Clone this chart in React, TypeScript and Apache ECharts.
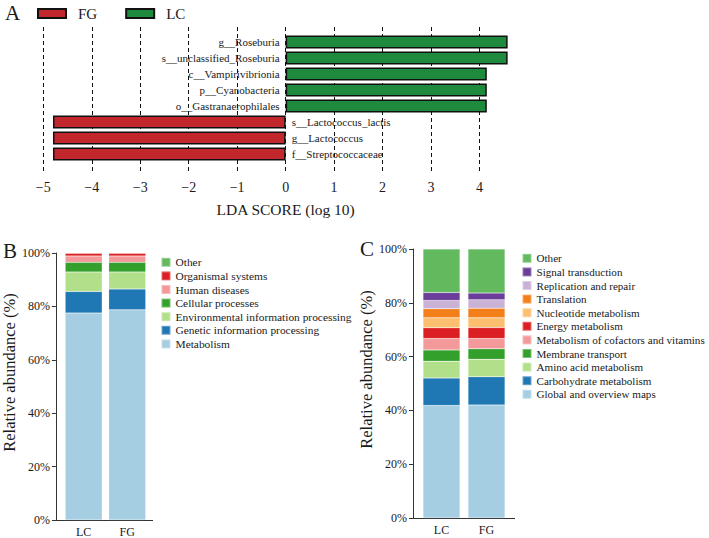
import React, { useEffect, useRef } from 'react';
import * as echarts from 'echarts';

// ---------- Panel A: LEfSe LDA scores ----------
const taxa = [
  'g__Roseburia',
  's__unclassified_Roseburia',
  'c__Vampirivibrionia',
  'p__Cyanobacteria',
  'o__Gastranaerophilales',
  's__Lactococcus_lactis',
  'g__Lactococcus',
  'f__Streptococcaceae',
];
const ldaLC = [4.58, 4.58, 4.15, 4.15, 4.15, null, null, null];
const ldaFG = [null, null, null, null, null, -4.8, -4.8, -4.8];

// ---------- Panels B and C: stacked relative abundance ----------
const groups = ['LC', 'FG'];

const level1Names = [
  'Metabolism',
  'Genetic information processing',
  'Environmental information processing',
  'Cellular processes',
  'Human diseases',
  'Organismal systems',
  'Other',
];
const level1LC = [77.5, 8.1, 7.3, 3.6, 2.4, 1.0, 0.1];
const level1FG = [78.7, 7.8, 6.4, 3.6, 2.4, 1.0, 0.1];
const level1Colors = ['#a6cee3', '#1f78b4', '#b2df8a', '#33a02c', '#f4999a', '#dc1f23', '#63b95e'];

const level2Names = [
  'Global and overview maps',
  'Carbohydrate metabolism',
  'Amino acid metabolism',
  'Membrane transport',
  'Metabolism of cofactors and vitamins',
  'Energy metabolism',
  'Nucleotide metabolism',
  'Translation',
  'Replication and repair',
  'Signal transduction',
  'Other',
];
const level2LC = [41.8, 10.2, 6.3, 4.2, 4.2, 4.0, 3.7, 3.4, 3.1, 2.9, 16.2];
const level2FG = [42.0, 10.5, 6.5, 3.9, 3.8, 4.1, 3.6, 3.6, 3.1, 2.5, 16.4];
const level2Colors = [
  '#a6cee3', '#1f78b4', '#b2df8a', '#33a02c', '#f4999a', '#dc1f23',
  '#fbbf6f', '#f37f1b', '#cab2d6', '#6a3d9a', '#63b95e',
];

const FONT = '"Liberation Serif", "Times New Roman", serif';
const TXT = '#1a1a1a';

export default function App() {
  const ref = useRef<HTMLDivElement>(null);

  useEffect(() => {
    if (!ref.current) return;
    const chart = echarts.init(ref.current, undefined, { renderer: 'svg' });

    const stackedAxisY = (gridIndex: number) => ({
      type: 'value',
      gridIndex,
      min: 0,
      max: 100,
      interval: 20,
      offset: 6,
      axisLine: { show: true, lineStyle: { color: '#333', width: 1 } },
      axisTick: { show: true, length: 4, lineStyle: { color: '#333' } },
      splitLine: { show: false },
      axisLabel: { formatter: '{value}%', fontSize: 12, color: TXT, margin: 6, fontFamily: FONT },
      name: 'Relative abundance (%)',
      nameLocation: 'middle',
      nameGap: 36,
      nameTextStyle: { fontSize: 16.5, color: TXT, fontFamily: FONT, padding: [0, 0, 0, 28] },
    });

    const stackedAxisX = (gridIndex: number) => ({
      type: 'category',
      gridIndex,
      data: groups,
      axisLine: { show: false },
      axisTick: { show: false },
      axisLabel: { fontSize: 12, color: TXT, margin: 6, fontFamily: FONT },
    });

    const stackSeries = (names: string[], lc: number[], fg: number[], colors: string[], idx: number, stack: string) =>
      names.map((n, i) => ({
        name: n,
        type: 'bar',
        stack,
        xAxisIndex: idx,
        yAxisIndex: idx,
        barWidth: 37,
        itemStyle: { color: colors[i], borderColor: 'rgba(255,255,255,0.35)', borderWidth: 0.5 },
        data: [lc[i], fg[i]],
      }));

    const legendVertical = (left: number, top: number, data: string[], fontSize: number) => ({
      orient: 'vertical',
      left,
      top,
      padding: 0,
      data,
      icon: 'rect',
      itemWidth: 9,
      itemHeight: 9,
      itemGap: 1,
      selectedMode: false,
      textStyle: { fontSize, color: TXT, fontFamily: FONT, lineHeight: 12.6 },
    });

    const option: any = {
      animation: false,
      backgroundColor: '#ffffff',
      textStyle: { fontFamily: FONT },
      grid: [
        { left: 43.3, top: 27, width: 484.7, height: 146 },
        { left: 43.3, top: 34, width: 484.7, height: 128 },
        { left: 59, top: 253, width: 90, height: 267 },
        { left: 419, top: 249, width: 90, height: 269 },
      ],
      xAxis: [
        {
          type: 'value',
          gridIndex: 0,
          min: -5,
          max: 5,
          interval: 1,
          axisLine: { show: false },
          axisTick: { show: false },
          splitLine: {
            show: true,
            showMinLine: true,
            showMaxLine: false,
            lineStyle: { color: '#111', type: [4, 3], width: 1 },
          },
          axisLabel: {
            fontSize: 14,
            color: TXT,
            margin: 7,
            fontFamily: FONT,
            formatter: (v: number) => (v >= 5 ? '' : String(v).replace('-', '\u2212')),
          },
          name: 'LDA SCORE (log 10)',
          nameLocation: 'middle',
          nameGap: 28,
          nameTextStyle: { fontSize: 15.5, color: TXT, fontFamily: FONT },
        },
        { type: 'value', gridIndex: 1, min: -5, max: 5, show: false },
        stackedAxisX(2),
        stackedAxisX(3),
      ],
      yAxis: [
        { type: 'value', gridIndex: 0, show: false },
        {
          type: 'category',
          gridIndex: 1,
          data: taxa,
          inverse: true,
          show: false,
        },
        stackedAxisY(2),
        stackedAxisY(3),
      ],
      legend: [
        {
          left: 37,
          top: 6,
          padding: 0,
          data: ['FG', 'LC'],
          icon: 'rect',
          itemWidth: 28,
          itemHeight: 9,
          itemGap: 28,
          selectedMode: false,
          formatter: (name: string) => '{s|}' + name,
          textStyle: {
            fontSize: 15,
            color: TXT,
            fontFamily: FONT,
            rich: { s: { width: 7 } },
          },
        },
        legendVertical(160.5, 256, [...level1Names].reverse(), 11.4),
        legendVertical(521.5, 252, [...level2Names].reverse(), 11.1),
      ],
      graphic: [
        { type: 'text', left: 5, top: 2, style: { text: 'A', fontSize: 21, fill: TXT, fontFamily: FONT } },
        { type: 'text', left: 3, top: 240, style: { text: 'B', fontSize: 21, fill: TXT, fontFamily: FONT } },
        { type: 'text', left: 360, top: 238, style: { text: 'C', fontSize: 21, fill: TXT, fontFamily: FONT } },
        { type: 'line', shape: { x1: 53, y1: 520.5, x2: 153, y2: 520.5 }, style: { stroke: '#333', lineWidth: 1 } },
        { type: 'line', shape: { x1: 413, y1: 518.5, x2: 515, y2: 518.5 }, style: { stroke: '#333', lineWidth: 1 } },
      ],
      series: [
        {
          name: 'FG',
          type: 'bar',
          xAxisIndex: 1,
          yAxisIndex: 1,
          barGap: '-100%',
          barCategoryGap: '18%',
          itemStyle: { color: '#c1272d', borderColor: '#111', borderWidth: 1.5 },
          label: { show: true, position: 'right', distance: 6, formatter: '{b}', fontSize: 11, color: TXT, fontFamily: FONT },
          data: ldaFG,
        },
        {
          name: 'LC',
          type: 'bar',
          xAxisIndex: 1,
          yAxisIndex: 1,
          barGap: '-100%',
          barCategoryGap: '18%',
          itemStyle: { color: '#1d8a3e', borderColor: '#111', borderWidth: 1.5 },
          label: { show: true, position: 'left', distance: 6, formatter: '{b}', fontSize: 11, color: TXT, fontFamily: FONT },
          data: ldaLC,
        },
        ...stackSeries(level1Names, level1LC, level1FG, level1Colors, 2, 'B'),
        ...stackSeries(level2Names, level2LC, level2FG, level2Colors, 3, 'C'),
      ],
    };

    chart.setOption(option);
    return () => chart.dispose();
  }, []);

  return (
    <div
      ref={ref}
      style={{ position: 'fixed', left: 0, top: 0, width: 709, height: 538, background: '#fff' }}
    />
  );
}
